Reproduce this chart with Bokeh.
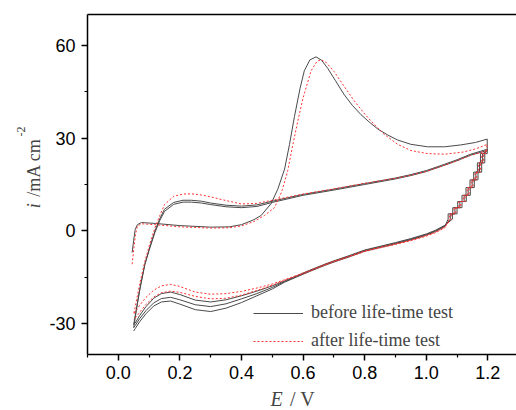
import math
from bokeh.plotting import figure
from bokeh.layouts import row, column
from bokeh.models import (LinearAxis, FixedTicker, Legend, LegendItem, Label,
                          Range1d, NumeralTickFormatter)
from bokeh.embed import file_html
from bokeh.resources import INLINE

# ---------------- data (E / V, i / mA cm-2) ----------------
# "before life-time test": first anodic scan with the oxidation peak
B_fwd1_E = [0.045, 0.05, 0.055, 0.062, 0.075, 0.12, 0.2, 0.3, 0.36, 0.4, 0.44, 0.464,
            0.496, 0.518, 0.54, 0.556, 0.572, 0.59, 0.604, 0.622, 0.642, 0.66, 0.68,
            0.705, 0.734, 0.76, 0.788, 0.815, 0.842, 0.875, 0.907, 0.95, 1.004, 1.06,
            1.112, 1.16, 1.198]
B_fwd1_i = [-7.0, -3.0, 0.5, 2.0, 2.7, 2.4, 1.7, 1.2, 1.3, 2.0, 3.6, 5.0,
            8.8, 13.5, 20.0, 28.0, 37.0, 46.0, 51.8, 55.3, 56.3, 55.2, 52.6,
            48.6, 44.0, 40.6, 37.6, 35.2, 33.0, 31.0, 29.4, 28.0, 27.2, 27.2,
            27.8, 28.6, 29.7]

# staircase at the start of the cathodic scans
STAIR_i = [25.0, 25.0, 22.0, 22.0, 19.0, 19.0, 16.5, 16.5, 14.0, 14.0, 11.5, 11.5,
           9.5, 9.5, 7.5, 7.5, 5.5, 5.5, 3.8]
B_stair1_E = [1.198, 1.190, 1.190, 1.180, 1.180, 1.168, 1.168, 1.156, 1.156, 1.143,
              1.143, 1.130, 1.130, 1.116, 1.116, 1.100, 1.100, 1.085, 1.085]
B_stair2_E = [1.191, 1.183, 1.183, 1.173, 1.173, 1.161, 1.161, 1.149, 1.149, 1.136,
              1.136, 1.123, 1.123, 1.109, 1.109, 1.093, 1.093, 1.078, 1.078]
B_stair3_E = [1.184, 1.176, 1.176, 1.166, 1.166, 1.154, 1.154, 1.142, 1.142, 1.129,
              1.129, 1.116, 1.116, 1.102, 1.102, 1.086, 1.086, 1.071, 1.071]
R_stair1_E = [1.194, 1.186, 1.186, 1.176, 1.176, 1.164, 1.164, 1.152, 1.152, 1.139,
              1.139, 1.126, 1.126, 1.112, 1.112, 1.096, 1.096, 1.081, 1.081]
R_stair2_E = [1.188, 1.180, 1.180, 1.170, 1.170, 1.158, 1.158, 1.146, 1.146, 1.133,
              1.133, 1.120, 1.120, 1.106, 1.106, 1.090, 1.090, 1.075, 1.075]

# cathodic scans below the staircase
REV_E = [1.06, 1.03, 1.0, 0.95, 0.9, 0.85, 0.8, 0.75, 0.7, 0.67, 0.62, 0.58, 0.54,
         0.5, 0.45, 0.4, 0.35, 0.3, 0.25, 0.2, 0.17, 0.14, 0.115, 0.09, 0.07, 0.055, 0.05]
B_rev1_i = [1.8, 0.2, -1.0, -2.5, -3.8, -5.0, -6.2, -8.0, -9.7, -10.8, -12.8, -14.5, -16.2,
            -17.8, -19.5, -21.0, -22.3, -23.0, -22.4, -20.6, -19.8, -20.3, -21.8, -24.5,
            -27.3, -29.8, -30.3]
B_rev2_i = [1.6, 0.0, -1.2, -2.7, -4.0, -5.2, -6.4, -8.2, -9.9, -11.0, -13.0, -14.7, -16.4,
            -18.3, -20.3, -22.0, -23.6, -24.5, -23.9, -22.3, -21.5, -21.9, -23.3, -25.8,
            -28.3, -30.6, -31.3]
B_rev3_i = [1.4, -0.2, -1.4, -2.9, -4.2, -5.4, -6.6, -8.4, -10.1, -11.2, -13.2, -14.9, -16.6,
            -18.8, -21.0, -23.2, -25.0, -26.1, -25.5, -23.7, -22.7, -23.0, -24.3, -26.8,
            -29.3, -31.6, -32.4]
R_rev1_i = [1.2, -0.4, -1.5, -3.0, -4.2, -5.3, -6.5, -8.2, -9.8, -10.9, -12.9, -14.4, -15.8,
            -17.2, -18.5, -19.6, -20.3, -20.5, -19.8, -18.0, -17.3, -17.8, -19.2, -21.5,
            -24.0, -26.3, -27.0]
R_rev2_i = [1.0, -0.6, -1.7, -3.2, -4.4, -5.5, -6.7, -8.4, -10.0, -11.1, -13.1, -14.6, -16.0,
            -17.6, -19.3, -20.8, -21.8, -22.0, -21.2, -19.9, -19.5, -20.0, -21.4, -23.8,
            -26.3, -28.2, -28.8]

# later anodic scans (no oxidation peak)
FWD_E = [0.05, 0.06, 0.07, 0.086, 0.1, 0.119, 0.135, 0.15, 0.18, 0.21, 0.237, 0.27, 0.3,
         0.35, 0.4, 0.45, 0.5, 0.6, 0.7, 0.8, 0.9, 0.95, 1.0, 1.058, 1.1, 1.144, 1.198]
B_fwd2_i = [-30.3, -24.5, -18.8, -10.8, -6.0, 0.0, 4.0, 7.0, 9.2, 9.9, 9.9, 9.6, 9.0,
            8.3, 8.0, 8.4, 9.6, 11.8, 13.5, 15.3, 17.1, 18.2, 19.5, 21.5, 23.0, 24.8, 26.4]
B_fwd3_i = [-31.3, -24.8, -18.9, -11.0, -6.3, -0.5, 3.4, 6.3, 8.6, 9.3, 9.3, 9.0, 8.5,
            7.8, 7.5, 7.9, 9.2, 11.5, 13.2, 15.0, 16.8, 17.9, 19.2, 21.2, 22.7, 24.5, 26.0]
R_fwd2_i = [-27.0, -22.0, -17.0, -10.0, -5.0, 1.0, 5.0, 8.5, 11.2, 11.9, 12.0, 11.6, 11.0,
            9.8, 8.7, 8.9, 9.9, 11.9, 13.6, 15.4, 17.0, 18.0, 19.2, 21.2, 22.7, 24.4, 26.0]

# "after life-time test": first anodic scan with the (shifted) oxidation peak
R_fwd1_E = [0.045, 0.05, 0.056, 0.062, 0.075, 0.12, 0.2, 0.3, 0.36, 0.4, 0.44, 0.475,
            0.507, 0.53, 0.55, 0.567, 0.583, 0.6, 0.626, 0.645, 0.658, 0.675, 0.701,
            0.735, 0.766, 0.8, 0.82, 0.86, 0.907, 0.95, 1.004, 1.06, 1.12, 1.16, 1.198]
R_fwd1_i = [-10.8, -6.0, -1.0, 1.5, 2.3, 2.0, 1.3, 0.9, 1.0, 1.6, 3.0, 5.0,
            7.5, 12.5, 19.4, 28.0, 35.6, 43.0, 51.8, 54.8, 55.4, 54.5, 51.5,
            46.5, 42.1, 37.8, 35.6, 31.5, 28.0, 26.0, 25.0, 24.8, 25.5, 26.5, 28.0]

labels = ["before life-time test", "after life-time test"]
x_ticks = [0.0, 0.2, 0.4, 0.6, 0.8, 1.0, 1.2]
x_minor = [-0.1, 0.1, 0.3, 0.5, 0.7, 0.9, 1.1, 1.3]
y_ticks = [-30, 0, 30, 60]
y_minor = [-15, 15, 45]

# ---------------- assemble the continuous potential sweeps ----------------
before_E = (B_fwd1_E + B_stair1_E + REV_E + FWD_E + B_stair2_E + REV_E
            + FWD_E + B_stair3_E + REV_E)
before_i = (B_fwd1_i + STAIR_i + B_rev1_i + B_fwd2_i + STAIR_i + B_rev2_i
            + B_fwd3_i + STAIR_i + B_rev3_i)
after_E = R_fwd1_E + R_stair1_E + REV_E + FWD_E + R_stair2_E + REV_E
after_i = R_fwd1_i + STAIR_i + R_rev1_i + R_fwd2_i + STAIR_i + R_rev2_i

serif = "Liberation Serif"
YLAB_W = 46
MAIN_H = 386
XLAB_H = 410 - MAIN_H

# ---------------- main figure ----------------
p = figure(width=516 - YLAB_W, height=MAIN_H,
           x_range=Range1d(-0.1, 1.293), y_range=Range1d(-40, 70),
           output_backend="svg", toolbar_location=None,
           min_border_left=86 - YLAB_W, min_border_right=0,
           min_border_top=14, min_border_bottom=MAIN_H - 354)
p.outline_line_color = None
p.grid.visible = False

r_before = p.line(before_E, before_i, line_color="#4a4a4a", line_width=1.0)
r_after = p.line(after_E, after_i, line_color="#ff3030", line_width=1.0, line_dash="2 2")

for ax in (p.xaxis[0], p.yaxis[0]):
    ax.axis_line_width = 1.5
    ax.axis_line_color = "black"
    ax.major_tick_line_width = 1.5
    ax.major_tick_line_color = "black"
    ax.minor_tick_line_width = 1.2
    ax.minor_tick_line_color = "black"
    ax.major_tick_in = 0
    ax.major_tick_out = 6
    ax.minor_tick_in = 0
    ax.minor_tick_out = 3
    ax.major_label_text_font = "Liberation Sans"
    ax.major_label_text_font_size = "18px"
    ax.major_label_text_color = "black"
    ax.major_label_standoff = 6
p.xaxis[0].major_label_standoff = 5

p.xaxis[0].ticker = FixedTicker(ticks=x_ticks, minor_ticks=x_minor)
p.xaxis[0].formatter = NumeralTickFormatter(format="0.0")
p.yaxis[0].ticker = FixedTicker(ticks=y_ticks, minor_ticks=y_minor)
p.yaxis[0].formatter = NumeralTickFormatter(format="0")

top = LinearAxis(ticker=FixedTicker(ticks=[]), axis_line_width=1.5, axis_line_color="black",
                 major_tick_in=0, major_tick_out=0, minor_tick_in=0, minor_tick_out=0,
                 major_label_standoff=0, axis_label_standoff=0)
p.add_layout(top, "above")

legend = Legend(items=[LegendItem(label=labels[0], renderers=[r_before]),
                       LegendItem(label=labels[1], renderers=[r_after])],
                location=(166, 3), padding=0, margin=0, spacing=7,
                glyph_width=50, glyph_height=20, label_height=20, label_standoff=8,
                label_text_font=serif, label_text_font_size="18px",
                border_line_color=None, background_fill_alpha=0)
p.add_layout(legend)

# ---------------- y-axis title strip (pixel coordinates) ----------------
yl = figure(width=YLAB_W, height=MAIN_H, x_range=Range1d(0, YLAB_W),
            y_range=Range1d(MAIN_H, 0), output_backend="svg", toolbar_location=None,
            x_axis_location=None, y_axis_location=None,
            min_border_left=0, min_border_right=0, min_border_top=0, min_border_bottom=0)
yl.outline_line_color = None
yl.grid.visible = False
yl.add_layout(Label(x=33.4, y=220, text="i", text_font=serif, text_font_style="italic",
                    text_font_size="18px", angle=math.pi / 2, text_align="left",
                    text_baseline="middle"))
yl.add_layout(Label(x=33.4, y=207, text="/mA cm", text_font=serif,
                    text_font_size="18px", angle=math.pi / 2, text_align="left",
                    text_baseline="middle"))
yl.add_layout(Label(x=20, y=138.5, text="-2", text_font=serif,
                    text_font_size="12px", angle=math.pi / 2, text_align="left",
                    text_baseline="middle"))

# ---------------- x-axis title strip (pixel coordinates) ----------------
xl = figure(width=516, height=XLAB_H, x_range=Range1d(0, 516), y_range=Range1d(XLAB_H, 0),
            output_backend="svg", toolbar_location=None,
            x_axis_location=None, y_axis_location=None,
            min_border_left=0, min_border_right=0, min_border_top=0, min_border_bottom=0)
xl.outline_line_color = None
xl.grid.visible = False
xl.add_layout(Label(x=270, y=12.3, text="E", text_font=serif, text_font_style="italic",
                    text_font_size="20px", text_align="left", text_baseline="middle"))
xl.add_layout(Label(x=289.5, y=12.3, text="/ V", text_font=serif,
                    text_font_size="20px", text_align="left", text_baseline="middle"))

layout = column(row(yl, p), xl)
open("out.html", "w").write(file_html(layout, INLINE))
